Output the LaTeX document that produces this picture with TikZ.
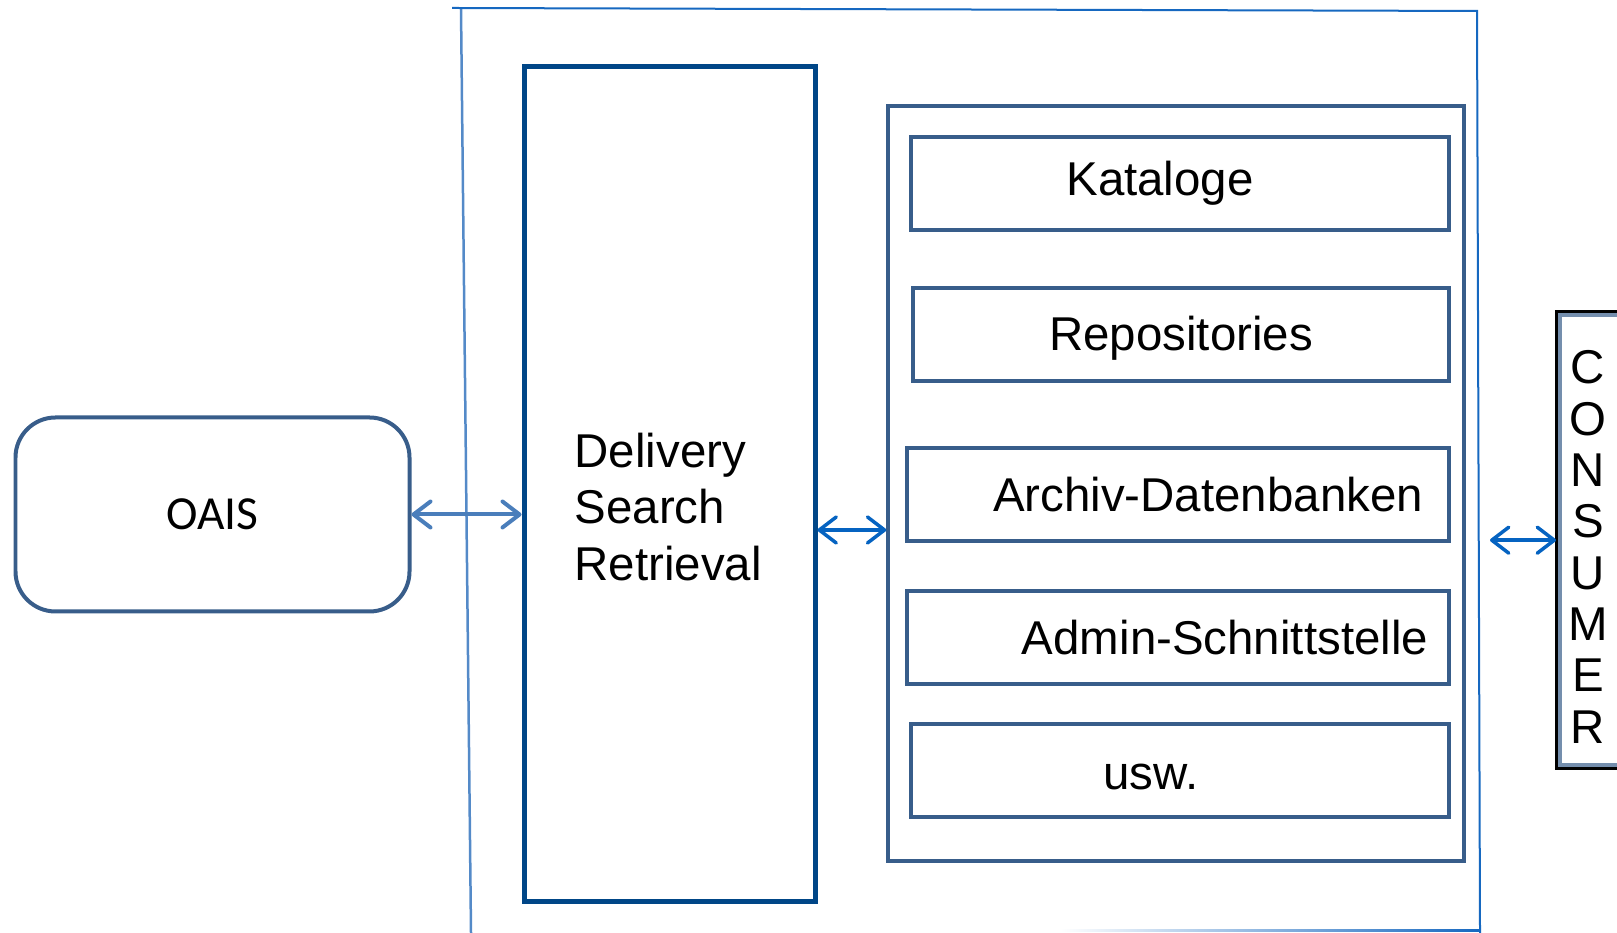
\documentclass[tikz,border=0pt]{standalone}
\usepackage{fontspec}
\setmainfont{Liberation Sans}
\newfontfamily\calibrifont{Carlito}
\usetikzlibrary{arrows.meta}
\definecolor{steel}{RGB}{56,93,138}
\definecolor{dsrblue}{RGB}{0,70,135}
\definecolor{frameblue}{RGB}{22,104,192}
\definecolor{framelight}{RGB}{84,138,200}
\definecolor{linkblue}{RGB}{5,99,193}
\definecolor{linklight}{RGB}{74,126,187}

\begin{document}
\begin{tikzpicture}[
	>={Straight Barb[length=0.17cm,width=0.26cm,round]},
	txt/.style={font=\fontsize{13.5}{16.1}\selectfont},
	oaisbox/.style={draw=steel, line width=0.04cm, rounded corners=0.4cm, minimum width=3.94cm, minimum height=1.94cm, font=\calibrifont\fontsize{13.5}{16}\selectfont},
	dsrbox/.style={draw=dsrblue, line width=0.05cm, minimum width=2.91cm, minimum height=8.35cm},
	groupbox/.style={draw=steel, line width=0.035cm, minimum width=5.76cm, minimum height=7.55cm},
	itembox/.style={draw=steel, line width=0.04cm, minimum height=0.93cm, inner sep=0pt},
	consbox/.style={draw=black, line width=0.03cm, outer sep=0pt, minimum width=0.9cm, minimum height=4.576cm},
	link/.style={<->, line width=0.035cm, linkblue}
	]
	\clip (0,0) rectangle (16.17,9.33);
	
	\draw[framelight, line width=0.025cm] (4.61,9.24) -- (4.71,0);
	\draw[frameblue, line width=0.02cm] (4.52,9.25) -- (14.77,9.22) -- (14.80,0);
	\shade[left color=white, right color=frameblue] (10.6,0.01) rectangle (14.80,0.03);
	
	\node[oaisbox] (oais) at (2.125,4.185) {OAIS};
	
	\node[dsrbox] (dsr) at (6.695,4.485) {};
	\node[txt, align=left, anchor=west, inner sep=0pt] (dsrtext) at (5.74,4.26) {Delivery\\Search\\Retrieval};
	
	\node[groupbox] (group) at (11.76,4.495) {};
	\node[itembox, minimum width=5.385cm] (kat) at (11.80,7.495) {};
	\node[itembox, minimum width=5.36cm] (repo) at (11.81,5.98) {};
	\node[itembox, minimum width=5.415cm] (adb) at (11.78,4.38) {};
	\node[itembox, minimum width=5.415cm] (admin) at (11.78,2.957) {};
	\node[itembox, minimum width=5.385cm] (usw) at (11.80,1.627) {};
	\node[txt] (katname) at ([xshift=-0.2cm]kat.center) {Kataloge};
	\node[txt] (reponame) at ([yshift=-0.03cm]repo.center) {Repositories};
	\node[txt] (adbname) at ([xshift=0.3cm]adb.center) {Archiv-Datenbanken};
	\node[txt] (adminname) at ([xshift=0.47cm]admin.center) {Admin-Schnittstelle};
	\node[txt] (uswname) at ([xshift=-0.29cm,yshift=-0.07cm]usw.center) {usw.};
	
	\node[consbox, anchor=west] (cons) at (15.56,3.928) {};
	\draw[steel!70, line width=0.04cm] ([shift={(0.035,-0.035)}]cons.north west) rectangle ([shift={(-0.035,0.035)}]cons.south east);
	\node[align=center, font=\fontsize{13.5}{14.6}\selectfont] (consname) at (15.88,3.86) {C\\O\\N\\S\\U\\M\\E\\R};
	
	\coordinate (rim) at (14.90,0);
	\draw[link, linklight, line width=0.04cm] (oais.east) -- (oais.east -| dsr.west);
	\draw[link] ([yshift=-0.455cm]dsr.east) -- ([yshift=-0.455cm]dsr.east -| group.west);
	\draw[link] (cons.west) -- (cons.west -| rim);
\end{tikzpicture}
\end{document}
